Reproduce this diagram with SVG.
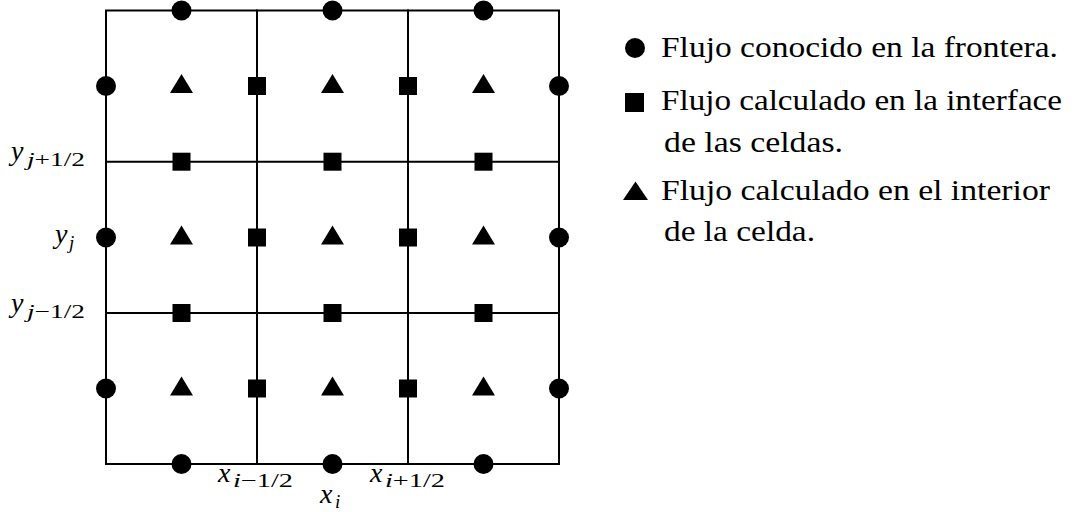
<svg xmlns="http://www.w3.org/2000/svg" width="1077" height="512" viewBox="0 0 1077 512">
<defs>
<style>
.g{stroke:#000;stroke-width:2;fill:none;stroke-linecap:square}
.m{fill:#000}
.t{font-size:29px;fill:#000}
.mi{font-style:italic;font-size:28px;fill:#000}
.sb{font-size:19px;fill:#000}
.it{font-style:italic}
</style>
<circle id="cir" r="10"/>
<rect id="sq" x="-9" y="-9" width="18" height="18"/>
<path id="tri" d="M0,-12 L11.5,7 L-11.5,7 Z"/>
</defs>
<rect width="1077" height="512" fill="#fff"/>
<g id="grid" class="g">
<rect x="106" y="10.5" width="453" height="453.5"/>
<line x1="257" y1="10.5" x2="257" y2="464"/>
<line x1="408" y1="10.5" x2="408" y2="464"/>
<line x1="106" y1="161.7" x2="559" y2="161.7"/>
<line x1="106" y1="313" x2="559" y2="313"/>
</g>
<g id="boundary-flux" class="m">
<use href="#cir" x="181.5" y="10.5"/><use href="#cir" x="332.5" y="10.5"/><use href="#cir" x="483.5" y="10.5"/>
<use href="#cir" x="181.5" y="464"/><use href="#cir" x="332.5" y="464"/><use href="#cir" x="483.5" y="464"/>
<use href="#cir" x="106" y="86"/><use href="#cir" x="106" y="237.5"/><use href="#cir" x="106" y="388.5"/>
<use href="#cir" x="559" y="86"/><use href="#cir" x="559" y="237.5"/><use href="#cir" x="559" y="388.5"/>
</g>
<g id="interface-flux" class="m">
<use href="#sq" x="257" y="86"/><use href="#sq" x="408" y="86"/>
<use href="#sq" x="257" y="237.5"/><use href="#sq" x="408" y="237.5"/>
<use href="#sq" x="257" y="388.5"/><use href="#sq" x="408" y="388.5"/>
<use href="#sq" x="181.5" y="161.7"/><use href="#sq" x="332.5" y="161.7"/><use href="#sq" x="483.5" y="161.7"/>
<use href="#sq" x="181.5" y="313"/><use href="#sq" x="332.5" y="313"/><use href="#sq" x="483.5" y="313"/>
</g>
<g id="interior-flux" class="m">
<use href="#tri" x="181.5" y="86"/><use href="#tri" x="332.5" y="86"/><use href="#tri" x="483.5" y="86"/>
<use href="#tri" x="181.5" y="237.5"/><use href="#tri" x="332.5" y="237.5"/><use href="#tri" x="483.5" y="237.5"/>
<use href="#tri" x="181.5" y="388.5"/><use href="#tri" x="332.5" y="388.5"/><use href="#tri" x="483.5" y="388.5"/>
</g>
<g id="axis-labels" font-family="'Liberation Serif', 'DejaVu Serif', serif">
<text class="mi" x="11" y="160">y</text>
<text class="sb" x="27" y="166" textLength="58" lengthAdjust="spacingAndGlyphs"><tspan class="it">j</tspan>+1/2</text>
<text class="mi" x="55" y="243">y</text>
<text class="sb it" x="69" y="249">j</text>
<text class="mi" x="11" y="311.5">y</text>
<text class="sb" x="27" y="317.5" textLength="58" lengthAdjust="spacingAndGlyphs"><tspan class="it">j</tspan>−1/2</text>
<text class="mi" x="218" y="481.7">x</text>
<text class="sb" x="233" y="487" textLength="60" lengthAdjust="spacingAndGlyphs"><tspan class="it">i</tspan>−1/2</text>
<text class="mi" x="370" y="481.7">x</text>
<text class="sb" x="385" y="487" textLength="60" lengthAdjust="spacingAndGlyphs"><tspan class="it">i</tspan>+1/2</text>
<text class="mi" x="320" y="502.7">x</text>
<text class="sb it" x="335" y="508">i</text>
</g>
<g id="legend" font-family="'Liberation Serif', 'DejaVu Serif', serif">
<use href="#cir" class="m" x="635" y="48"/>
<text class="t" x="661" y="56.5" textLength="397" lengthAdjust="spacingAndGlyphs">Flujo conocido en la frontera.</text>
<rect class="m" x="625" y="93" width="19" height="19"/>
<text class="t" x="661" y="110" textLength="401" lengthAdjust="spacingAndGlyphs">Flujo calculado en la interface</text>
<text class="t" x="664" y="151.5" textLength="179" lengthAdjust="spacingAndGlyphs">de las celdas.</text>
<path class="m" d="M635.5,181.5 L648,200 L623,200 Z"/>
<text class="t" x="661" y="199.5" textLength="389" lengthAdjust="spacingAndGlyphs">Flujo calculado en el interior</text>
<text class="t" x="664" y="240.5" textLength="151" lengthAdjust="spacingAndGlyphs">de la celda.</text>
</g>
</svg>
